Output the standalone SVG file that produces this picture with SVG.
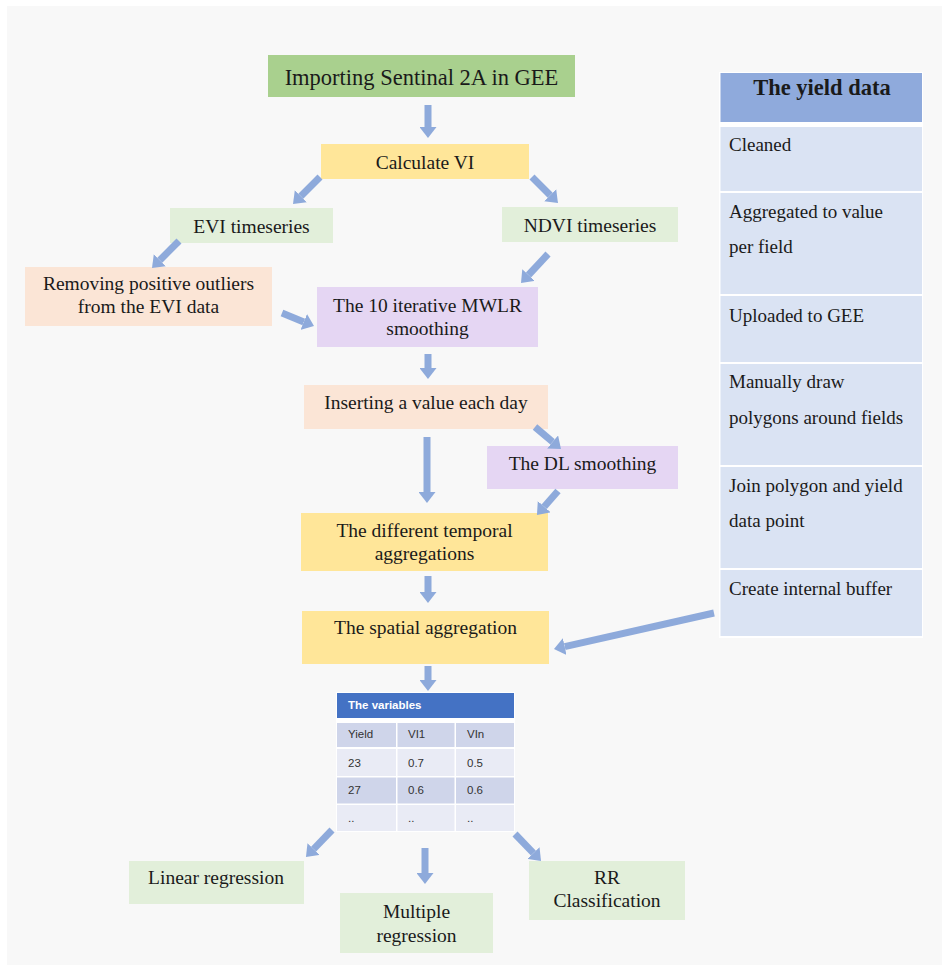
<svg xmlns="http://www.w3.org/2000/svg" width="942" height="966" viewBox="0 0 942 966">
<style>
  .t{font-family:"Liberation Serif","Times New Roman",serif;font-size:19.5px;fill:#1a1a1a;text-anchor:middle}
  .tl{font-family:"Liberation Serif","Times New Roman",serif;font-size:19px;fill:#1a1a1a}
  .big{font-size:22.5px}
  .bold{font-weight:bold}
  .s{font-family:"Liberation Sans",Arial,sans-serif;font-size:11.5px;fill:#333}
  .sh{font-family:"Liberation Sans",Arial,sans-serif;font-size:11.5px;fill:#fff;font-weight:bold}
  .g1{fill:#a9d08e}.gy{fill:#ffe699}.gl{fill:#e2efda}.pe{fill:#fbe5d6}.pu{fill:#e5d6f3}
  .yh{fill:#8faadc}.yc{fill:#dae3f3}
  .r1{fill:#cfd5ea}.r2{fill:#e9ebf5}
  .ar{stroke:#8eaadb;stroke-width:7;fill:none;marker-end:url(#ah)}
</style>
<defs>
  <marker id="ah" markerUnits="userSpaceOnUse" viewBox="0 0 11 17" markerWidth="11" markerHeight="17" refX="0" refY="8.5" orient="auto">
    <path d="M0,0 L11,8.5 L0,17 Z" fill="#8eaadb"/>
  </marker>
</defs>
<rect x="0" y="0" width="942" height="966" fill="#ffffff"/>
<rect x="7" y="6" width="935" height="959" fill="#f8f8f8"/>

<g id="n-import"><rect class="g1" x="268" y="55" width="307" height="42"/><text class="t big" x="421.5" y="85">Importing Sentinal 2A in GEE</text></g>
<g id="n-calc"><rect class="gy" x="321" y="144" width="208" height="35"/><text class="t" x="425" y="169">Calculate VI</text></g>
<g id="n-evi"><rect class="gl" x="170" y="208" width="163" height="35"/><text class="t" x="251.5" y="233">EVI timeseries</text></g>
<g id="n-ndvi"><rect class="gl" x="502" y="207" width="176" height="35"/><text class="t" x="590" y="232">NDVI timeseries</text></g>
<g id="n-remove"><rect class="pe" x="25" y="267" width="247" height="59"/><text class="t" x="148.5" y="290">Removing positive outliers</text><text class="t" x="148.5" y="313">from the EVI data</text></g>
<g id="n-mwlr"><rect class="pu" x="317" y="287" width="221" height="60"/><text class="t" x="427.5" y="312">The 10 iterative MWLR</text><text class="t" x="427.5" y="335">smoothing</text></g>
<g id="n-insert"><rect class="pe" x="304" y="385" width="244" height="44"/><text class="t" x="426" y="409">Inserting a value each day</text></g>
<g id="n-dl"><rect class="pu" x="487" y="446" width="191" height="43"/><text class="t" x="582.5" y="470">The DL smoothing</text></g>
<g id="n-temporal"><rect class="gy" x="301" y="513" width="247" height="58"/><text class="t" x="424.5" y="537">The different temporal</text><text class="t" x="424.5" y="560">aggregations</text></g>
<g id="n-spatial"><rect class="gy" x="302" y="611" width="247" height="53"/><text class="t" x="425.5" y="634">The spatial aggregation</text></g>

<g id="n-yield">
  <rect x="719" y="72" width="204" height="566" fill="#ffffff"/>
  <rect class="yh" x="720.5" y="73" width="201.5" height="49"/>
  <text class="t big bold" x="822" y="95">The yield data</text>
  <rect class="yc" x="720.5" y="127" width="201.5" height="64"/>
  <text class="tl" x="729" y="151">Cleaned</text>
  <rect class="yc" x="720.5" y="193" width="201.5" height="101"/>
  <text class="tl" x="729" y="218">Aggregated to value</text>
  <text class="tl" x="729" y="253">per field</text>
  <rect class="yc" x="720.5" y="296" width="201.5" height="66"/>
  <text class="tl" x="729" y="322">Uploaded to GEE</text>
  <rect class="yc" x="720.5" y="364" width="201.5" height="101"/>
  <text class="tl" x="729" y="388">Manually draw</text>
  <text class="tl" x="729" y="424">polygons around fields</text>
  <rect class="yc" x="720.5" y="467" width="201.5" height="101"/>
  <text class="tl" x="729" y="492">Join polygon and yield</text>
  <text class="tl" x="729" y="527">data point</text>
  <rect class="yc" x="720.5" y="570" width="201.5" height="66"/>
  <text class="tl" x="729" y="595">Create internal buffer</text>
</g>

<g id="n-table">
  <rect x="336" y="692" width="179" height="140" fill="#ffffff"/>
  <rect x="337" y="693" width="177" height="25" fill="#4472c4"/>
  <text class="sh" x="348" y="709">The variables</text>
  <rect class="r1" x="337" y="723" width="59" height="24"/><rect class="r1" x="397.5" y="723" width="57" height="24"/><rect class="r1" x="456" y="723" width="58" height="24"/>
  <rect class="r2" x="337" y="749" width="59" height="27"/><rect class="r2" x="397.5" y="749" width="57" height="27"/><rect class="r2" x="456" y="749" width="58" height="27"/>
  <rect class="r1" x="337" y="777.5" width="59" height="26"/><rect class="r1" x="397.5" y="777.5" width="57" height="26"/><rect class="r1" x="456" y="777.5" width="58" height="26"/>
  <rect class="r2" x="337" y="805" width="59" height="26"/><rect class="r2" x="397.5" y="805" width="57" height="26"/><rect class="r2" x="456" y="805" width="58" height="26"/>
  <text class="s" x="348" y="738">Yield</text><text class="s" x="408" y="738">VI1</text><text class="s" x="467" y="738">VIn</text>
  <text class="s" x="348" y="767">23</text><text class="s" x="408" y="767">0.7</text><text class="s" x="467" y="767">0.5</text>
  <text class="s" x="348" y="794">27</text><text class="s" x="408" y="794">0.6</text><text class="s" x="467" y="794">0.6</text>
  <text class="s" x="348" y="822">..</text><text class="s" x="408" y="822">..</text><text class="s" x="467" y="822">..</text>
</g>

<g id="n-linear"><rect class="gl" x="129" y="861" width="175" height="43"/><text class="t" x="216" y="884">Linear regression</text></g>
<g id="n-multiple"><rect class="gl" x="340" y="893" width="153" height="60"/><text class="t" x="416.5" y="918">Multiple</text><text class="t" x="416.5" y="942">regression</text></g>
<g id="n-rr"><rect class="gl" x="529" y="861" width="156" height="59"/><text class="t" x="607" y="884">RR</text><text class="t" x="607" y="907">Classification</text></g>

<g id="connectors">
  <line class="ar" x1="428" y1="105" x2="428" y2="127"/>
  <line class="ar" x1="320" y1="177" x2="300.8" y2="196.2"/>
  <line class="ar" x1="532" y1="177" x2="550.2" y2="195.2"/>
  <line class="ar" x1="179" y1="241" x2="159.8" y2="260.2"/>
  <line class="ar" x1="548" y1="254" x2="528.5" y2="275"/>
  <line class="ar" x1="282" y1="313" x2="303.8" y2="321.9"/>
  <line class="ar" x1="428" y1="354" x2="428" y2="368"/>
  <line class="ar" x1="427" y1="437" x2="427" y2="492"/>
  <line class="ar" x1="535" y1="427" x2="552.6" y2="441.9"/>
  <line class="ar" x1="558" y1="491" x2="544.2" y2="506.7"/>
  <line class="ar" x1="428" y1="576" x2="428" y2="592"/>
  <line class="ar" x1="714" y1="613" x2="564.7" y2="646.6"/>
  <line class="ar" x1="428" y1="666" x2="428" y2="680"/>
  <line class="ar" x1="332" y1="830" x2="313.6" y2="849.1"/>
  <line class="ar" x1="425" y1="848" x2="425" y2="873"/>
  <line class="ar" x1="515" y1="834" x2="533.4" y2="853.1"/>
</g>
</svg>
